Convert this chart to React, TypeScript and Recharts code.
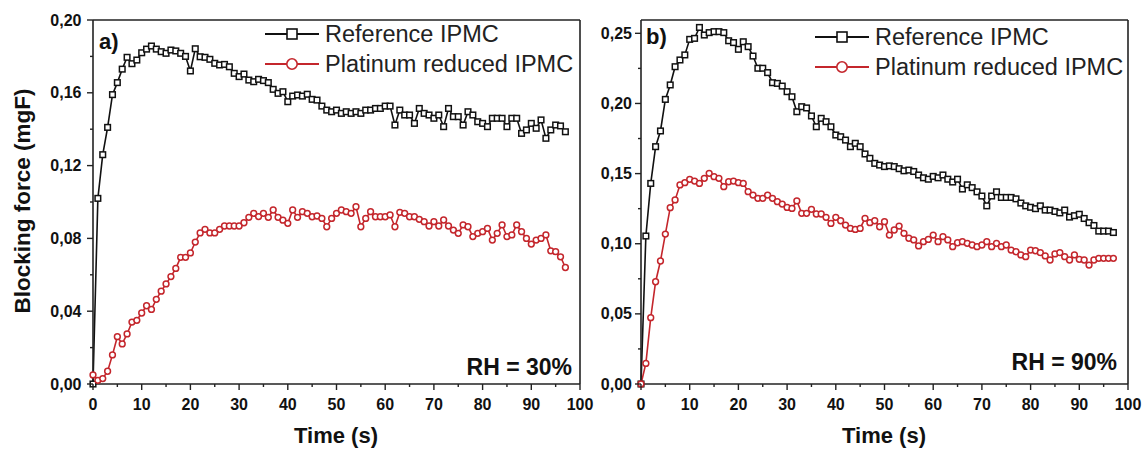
import React from 'react';
import { LineChart, Line, XAxis, YAxis, ReferenceLine } from 'recharts';

// time in seconds (one sample per second)
const time = [
  0, 1, 2, 3, 4, 5, 6, 7, 8, 9, 10, 11, 12, 13, 14, 15, 16, 17, 18, 19,
  20, 21, 22, 23, 24, 25, 26, 27, 28, 29, 30, 31, 32, 33, 34, 35, 36, 37, 38, 39,
  40, 41, 42, 43, 44, 45, 46, 47, 48, 49, 50, 51, 52, 53, 54, 55, 56, 57, 58, 59,
  60, 61, 62, 63, 64, 65, 66, 67, 68, 69, 70, 71, 72, 73, 74, 75, 76, 77, 78, 79,
  80, 81, 82, 83, 84, 85, 86, 87, 88, 89, 90, 91, 92, 93, 94, 95, 96, 97,
];

// a) RH = 30%
const refA = [
  0, 0.102, 0.126, 0.141, 0.159, 0.1656, 0.173, 0.1795, 0.176, 0.178,
  0.182, 0.184, 0.1857, 0.184, 0.1826, 0.1817, 0.1835, 0.183, 0.1817, 0.18,
  0.172, 0.1842, 0.1798, 0.1795, 0.1784, 0.1762, 0.1753, 0.1756, 0.1743, 0.1707,
  0.1689, 0.1703, 0.167, 0.1661, 0.1674, 0.1667, 0.1656, 0.1619, 0.1597, 0.1606,
  0.1551, 0.1582, 0.1588, 0.1582, 0.1592, 0.1564, 0.156, 0.1527, 0.1505, 0.1496,
  0.1505, 0.1487, 0.1496, 0.1487, 0.1496, 0.1487, 0.1505, 0.1505, 0.1514, 0.1514,
  0.1527, 0.1527, 0.1423, 0.1505, 0.1478, 0.1478, 0.1432, 0.1514, 0.1487, 0.1478,
  0.146, 0.1478, 0.1414, 0.1514, 0.1469, 0.1469, 0.1423, 0.1496, 0.1478, 0.1441,
  0.1432, 0.1414, 0.146, 0.146, 0.146, 0.1414, 0.146, 0.146, 0.1377, 0.1396,
  0.1432, 0.1405, 0.1451, 0.135, 0.1396, 0.1423, 0.1418, 0.1386,
];
const ptA = [
  0.005, 0.002, 0.003, 0.007, 0.016, 0.026, 0.022, 0.0275, 0.034, 0.035,
  0.039, 0.043, 0.041, 0.0465, 0.051, 0.055, 0.059, 0.0635, 0.0696, 0.0696,
  0.072, 0.078, 0.083, 0.085, 0.083, 0.083, 0.085, 0.0868, 0.0868, 0.0868,
  0.0868, 0.0886, 0.0916, 0.0938, 0.092, 0.0938, 0.0916, 0.0956, 0.0916, 0.09,
  0.0883, 0.0956, 0.0916, 0.0947, 0.0938, 0.0919, 0.0923, 0.091, 0.0864, 0.091,
  0.0938, 0.0956, 0.0947, 0.0938, 0.0974, 0.0864, 0.091, 0.0947, 0.0919, 0.0919,
  0.0919, 0.0929, 0.0864, 0.0943, 0.0938, 0.0919, 0.0919, 0.0905, 0.0892, 0.0868,
  0.0892, 0.0868, 0.0901, 0.0868, 0.0846, 0.0828, 0.0874, 0.0864, 0.081, 0.0828,
  0.0837, 0.0855, 0.0791, 0.0828, 0.0874, 0.081, 0.0819, 0.0874, 0.0837, 0.08,
  0.0769, 0.0791, 0.08, 0.0819, 0.0732, 0.0727, 0.0699, 0.064,
];

// b) RH = 90%
const refB = [
  0, 0.1055, 0.143, 0.1692, 0.1804, 0.2029, 0.2132, 0.2262, 0.231, 0.2346,
  0.2457, 0.2464, 0.2542, 0.2488, 0.2505, 0.2512, 0.2512, 0.2505, 0.2447, 0.2434,
  0.2386, 0.244, 0.2405, 0.2338, 0.2251, 0.2251, 0.222, 0.2148, 0.2143, 0.2124,
  0.2084, 0.2048, 0.1941, 0.1977, 0.1968, 0.1911, 0.1834, 0.1894, 0.187, 0.1834,
  0.1775, 0.1763, 0.1739, 0.1692, 0.1716, 0.1692, 0.164, 0.1609, 0.1573, 0.1561,
  0.155, 0.1555, 0.155, 0.1535, 0.152, 0.1525, 0.1515, 0.149, 0.147, 0.146,
  0.148, 0.147, 0.149, 0.146, 0.144, 0.146, 0.139, 0.142, 0.14, 0.137,
  0.134, 0.127, 0.134, 0.137, 0.133, 0.133, 0.133, 0.132, 0.129, 0.127,
  0.126, 0.125, 0.127, 0.124, 0.124, 0.123, 0.122, 0.124, 0.119, 0.12,
  0.121, 0.118, 0.115, 0.113, 0.109, 0.109, 0.109, 0.108,
];
const ptB = [
  0, 0.0147, 0.0473, 0.0729, 0.0877, 0.1069, 0.1257, 0.1312, 0.1419, 0.1435,
  0.1459, 0.1447, 0.143, 0.1466, 0.1502, 0.1478, 0.1466, 0.1407, 0.1442, 0.1447,
  0.1435, 0.143, 0.1371, 0.1347, 0.1324, 0.1324, 0.1347, 0.1324, 0.13, 0.1283,
  0.1259, 0.1252, 0.1305, 0.1217, 0.1217, 0.1245, 0.1212, 0.1212, 0.1188, 0.1145,
  0.1188, 0.1164, 0.1133, 0.1109, 0.1102, 0.1109, 0.1181, 0.115, 0.1164, 0.1121,
  0.1157, 0.1062, 0.1098, 0.1126, 0.1074, 0.1039, 0.1027, 0.0984, 0.1015, 0.1031,
  0.1062, 0.1015, 0.105, 0.1027, 0.0979, 0.1007, 0.1015, 0.1003, 0.0991, 0.0979,
  0.0991, 0.1015, 0.0979, 0.1003, 0.0979, 0.0991, 0.0955, 0.0943, 0.092, 0.0908,
  0.0955, 0.095, 0.0936, 0.0913, 0.0884, 0.0927, 0.0936, 0.0908, 0.0884, 0.092,
  0.0889, 0.0884, 0.0848, 0.0884, 0.0896, 0.0896, 0.0896, 0.0896,
];

const xTicks = [0, 5, 10, 15, 20, 25, 30, 35, 40, 45, 50, 55, 60, 65, 70, 75, 80, 85, 90, 95, 100];
const yTicksA = [0, 0.02, 0.04, 0.06, 0.08, 0.1, 0.12, 0.14, 0.16, 0.18, 0.2];
const yTicksB = [0, 0.025, 0.05, 0.075, 0.1, 0.125, 0.15, 0.175, 0.2, 0.225, 0.25];

const FONT = '"Liberation Sans", Arial, sans-serif';
const AXIS = '#222';
const BLACK = '#111';
const RED = '#c4262c';

const dataA = time.map((t, i) => ({ t, ref: refA[i], pt: ptA[i] }));
const dataB = time.map((t, i) => ({ t, ref: refB[i], pt: ptB[i] }));

const XTick = (props: any) => {
  const { x, y, payload } = props;
  const major = payload.value % 10 === 0;
  return (
    <g>
      <line x1={x} x2={x} y1={y} y2={y + (major ? 6 : 3)} stroke={AXIS} strokeWidth={1.4} />
      {major && (
        <text x={x} y={y + 26} textAnchor="middle" fontFamily={FONT} fontWeight="bold" fontSize={16} fill="#111">
          {payload.value}
        </text>
      )}
    </g>
  );
};

const makeYTick = (gap: number) => (props: any) => {
  const { x, y, payload, index } = props;
  const major = index % 2 === 0;
  return (
    <g>
      <line x1={x} x2={x - (major ? 6 : 3)} y1={y} y2={y} stroke={AXIS} strokeWidth={1.4} />
      {major && (
        <text x={x - gap} y={y + 5.5} textAnchor="end" fontFamily={FONT} fontWeight="bold" fontSize={16} fill="#111">
          {payload.value.toFixed(2).replace('.', ',')}
        </text>
      )}
    </g>
  );
};

const squareDot = (props: any) => {
  const { cx, cy, index } = props;
  return <rect key={`s${index}`} x={cx - 2.8} y={cy - 2.8} width={5.6} height={5.6} fill="#fff" stroke={BLACK} strokeWidth={1.5} />;
};

const circleDot = (props: any) => {
  const { cx, cy, index } = props;
  return <circle key={`c${index}`} cx={cx} cy={cy} r={2.9} fill="#fff" stroke={RED} strokeWidth={1.5} />;
};

interface PanelProps {
  data: { t: number; ref: number; pt: number }[];
  yMax: number;
  yTicks: number[];
  yAxisWidth: number;
  right: number;
  gap: number;
}

const Panel: React.FC<PanelProps> = ({ data, yMax, yTicks, yAxisWidth, right, gap }) => (
  <LineChart width={yAxisWidth + 487 + right} height={454} data={data} margin={{ top: 20, right, bottom: 0, left: 0 }}>
    <XAxis
      dataKey="t"
      type="number"
      domain={[0, 100]}
      ticks={xTicks}
      height={70}
      tickSize={0}
      tickMargin={0}
      tickLine={false}
      tick={XTick}
      interval={0}
      axisLine={{ stroke: AXIS, strokeWidth: 1.6 }}
    />
    <YAxis
      type="number"
      domain={[0, yMax]}
      ticks={yTicks}
      width={yAxisWidth}
      tickSize={0}
      tickMargin={0}
      tickLine={false}
      tick={makeYTick(gap)}
      interval={0}
      axisLine={{ stroke: AXIS, strokeWidth: 1.6 }}
    />
    <ReferenceLine y={yMax} stroke={AXIS} strokeWidth={1.6} />
    <ReferenceLine x={100} stroke={AXIS} strokeWidth={1.6} />
    <Line dataKey="ref" type="linear" stroke={BLACK} strokeWidth={1.6} dot={squareDot} isAnimationActive={false} />
    <Line dataKey="pt" type="linear" stroke={RED} strokeWidth={1.6} dot={circleDot} isAnimationActive={false} />
  </LineChart>
);

const LegendBlock = ({ x, y }: { x: number; y: number }) => (
  <g fontFamily={FONT} fontSize={23.5} fill="#222">
    <line x1={x} x2={x + 54} y1={y} y2={y} stroke={BLACK} strokeWidth={1.8} />
    <rect x={x + 22} y={y - 5} width={10} height={10} fill="#fff" stroke={BLACK} strokeWidth={1.6} />
    <text x={x + 60} y={y + 8}>Reference IPMC</text>
    <line x1={x} x2={x + 54} y1={y + 30} y2={y + 30} stroke={RED} strokeWidth={1.8} />
    <circle cx={x + 27} cy={y + 30} r={5.2} fill="#fff" stroke={RED} strokeWidth={1.6} />
    <text x={x + 60} y={y + 38}>Platinum reduced IPMC</text>
  </g>
);

export default function App() {
  return (
    <div style={{ position: 'absolute', left: 0, top: 0, width: 1146, height: 454, background: '#fff' }}>
      <div style={{ position: 'absolute', left: 0, top: 0 }}>
        <Panel data={dataA} yMax={0.2} yTicks={yTicksA} yAxisWidth={93} right={20} gap={11.5} />
      </div>
      <div style={{ position: 'absolute', left: 560, top: 0 }}>
        <Panel data={dataB} yMax={0.2595} yTicks={yTicksB} yAxisWidth={81} right={18} gap={9} />
      </div>
      <svg width={1146} height={454} style={{ position: 'absolute', left: 0, top: 0, pointerEvents: 'none' }}>
        <LegendBlock x={265} y={34} />
        <LegendBlock x={815} y={37} />
        <g fontFamily={FONT} fontWeight="bold" fill="#111">
          <text x={99} y={49} fontSize={22}>a)</text>
          <text x={646} y={44} fontSize={22}>b)</text>
          <text x={572} y={375} fontSize={23} textAnchor="end">RH = 30%</text>
          <text x={1117} y={370} fontSize={23} textAnchor="end">RH = 90%</text>
          <text x={336} y={443} fontSize={22} textAnchor="middle">Time (s)</text>
          <text x={884} y={443} fontSize={22} textAnchor="middle">Time (s)</text>
          <text x={30} y={201} fontSize={22.5} textAnchor="middle" transform="rotate(-90 30 201)">Blocking force (mgF)</text>
        </g>
      </svg>
    </div>
  );
}
